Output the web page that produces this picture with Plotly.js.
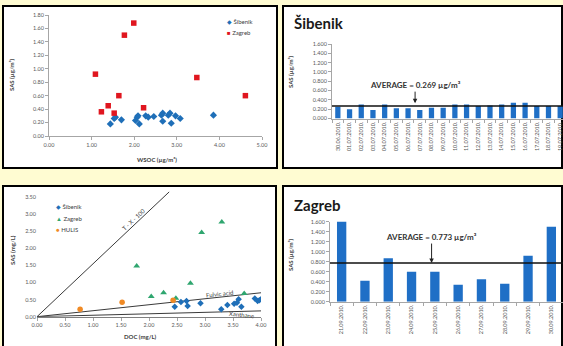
<!DOCTYPE html>
<html><head><meta charset="utf-8">
<script src="https://cdn.plot.ly/plotly-3.0.1.min.js"></script>
<style>html,body{margin:0;padding:0;background:#fffcd2;overflow:hidden}</style>
</head><body><div id="chart" style="width:563px;height:346px"></div>
<script>
// ---- Panel 1: SAS vs WSOC (µg/m³)
const sibenikWsoc = [1.44,1.53,1.56,1.70,2.03,2.07,2.09,2.12,2.27,2.33,2.46,2.64,2.67,2.67,2.80,2.84,2.87,2.97,3.08,3.86];
const sibenikSasA = [0.18,0.26,0.28,0.24,0.23,0.28,0.30,0.18,0.30,0.28,0.29,0.31,0.34,0.22,0.31,0.34,0.19,0.30,0.26,0.31];
const zagrebWsoc = [1.09,1.23,1.39,1.53,1.64,1.77,1.99,2.22,3.47,4.61];
const zagrebSasA = [0.92,0.36,0.45,0.34,0.60,1.50,1.68,0.42,0.87,0.60];
// ---- Panel 3: SAS vs DOC (mg/L)
const sibenikDoc = [2.46,2.57,2.67,2.69,2.92,3.29,3.40,3.52,3.57,3.60,3.65,3.89,3.94,3.97,4.00];
const sibenikSasL = [0.29,0.43,0.46,0.31,0.39,0.22,0.34,0.38,0.41,0.51,0.29,0.53,0.46,0.48,0.51];
const zagrebDoc = [1.78,2.04,2.26,2.48,2.74,2.94,3.30,3.70];
const zagrebSasL = [1.48,0.59,0.70,0.54,0.98,2.46,2.77,0.68];
const hulisDoc = [0.77,1.52,2.43];
const hulisSasL = [0.22,0.42,0.48];
const refNames = ['T - X - 100','Fulvic acid','Xanthane'];
const refEndX = [2.36,4.00,4.00];
const refEndY = [3.65,0.70,0.17];
// ---- Panel 2: Šibenik daily SAS
const sibenikDates = ['30.06.2010.','01.07.2010.','02.07.2010.','03.07.2010.','04.07.2010.','05.07.2010.','06.07.2010.','07.07.2010.','08.07.2010.','09.07.2010.','10.07.2010.','11.07.2010.','12.07.2010.','13.07.2010.','14.07.2010.','15.07.2010.','16.07.2010.','17.07.2010.','18.07.2010.','19.07.2010.'];
const sibenikSas = [0.25,0.20,0.30,0.18,0.30,0.22,0.22,0.18,0.23,0.23,0.30,0.30,0.27,0.28,0.30,0.34,0.34,0.27,0.27,0.27];
const sibenikAvg = 0.269;
// ---- Panel 4: Zagreb daily SAS
const zagrebDates = ['21.09.2010.','22.09.2010.','23.09.2010.','24.09.2010.','25.09.2010.','26.09.2010.','27.09.2010.','28.09.2010.','29.09.2010.','30.09.2010.'];
const zagrebSas = [1.68,0.42,0.87,0.60,0.60,0.34,0.45,0.36,0.92,1.50];
const zagrebAvg = 0.773;

const W = 563, H = 346;
const px = v => v / W, py = v => 1 - v / H;

const blue = '#1f6fb8', red = '#e0161f', green = '#2fa66f', orange = '#f08a24', barBlue = '#1f6fc6';
const tickFont = {family:'Lato, Liberation Sans, sans-serif', size:5.5, color:'#595959'};
const axBase = {showline:true, linecolor:'#a6a6a6', linewidth:1, ticks:'outside', ticklen:3, tickcolor:'#a6a6a6', showgrid:false, zeroline:false, tickfont:tickFont, fixedrange:true};

const traces = [
  {type:'scatter', mode:'markers', x:sibenikWsoc, y:sibenikSasA, xaxis:'x', yaxis:'y', marker:{symbol:'diamond', size:5.5, color:blue}},
  {type:'scatter', mode:'markers', x:zagrebWsoc, y:zagrebSasA, xaxis:'x', yaxis:'y', marker:{symbol:'square', size:5.5, color:red}},
  {type:'bar', x:sibenikDates, y:sibenikSas, xaxis:'x2', yaxis:'y2', width:0.45, marker:{color:barBlue, line:{width:0}}},
  {type:'bar', x:zagrebDates, y:zagrebSas, xaxis:'x4', yaxis:'y4', width:0.4, marker:{color:barBlue, line:{width:0}}}
];
refNames.forEach((n,i) => traces.push({type:'scatter', mode:'lines', x:[0,refEndX[i]], y:[0,refEndY[i]], xaxis:'x3', yaxis:'y3', line:{color:'#3a3a3a', width:1}}));
traces.push({type:'scatter', mode:'markers', x:sibenikDoc, y:sibenikSasL, xaxis:'x3', yaxis:'y3', marker:{symbol:'diamond', size:5, color:blue}});
traces.push({type:'scatter', mode:'markers', x:zagrebDoc, y:zagrebSasL, xaxis:'x3', yaxis:'y3', marker:{symbol:'triangle-up', size:6, color:green}});
traces.push({type:'scatter', mode:'markers', x:hulisDoc, y:hulisSasL, xaxis:'x3', yaxis:'y3', marker:{symbol:'circle', size:5.5, color:orange}});

const panel = (x0,y0,x1,y1) => ({type:'rect', xref:'paper', yref:'paper', x0:px(x0), x1:px(x1), y0:py(y0), y1:py(y1), line:{color:'#000', width:2}, fillcolor:'#ffffff', layer:'below'});

const lblFont = {family:'Lato, Liberation Sans, sans-serif', size:6, color:'#404040'};
const ann = (x,y,text,extra) => Object.assign({xref:'paper', yref:'paper', x:px(x), y:py(y), text:text, showarrow:false, xanchor:'center', yanchor:'middle', font:lblFont}, extra||{});
const leg = (x,y,glyph,color,name) => ann(x,y,`<span style="color:${color}">${glyph}</span> ${name}`,{xanchor:'left'});

const annotations = [
  ann(292,23,'<b>Šibenik</b>',{xanchor:'left', font:{family:'Lato, sans-serif', size:15, color:'#1a1a1a'}}),
  ann(292,205,'<b>Zagreb</b>',{xanchor:'left', font:{family:'Lato, sans-serif', size:15, color:'#1a1a1a'}}),
  ann(12,75,'<b>SAS (µg/m³)</b>',{textangle:-90}),
  ann(157,159,'<b>WSOC (µg/m³)</b>'),
  ann(290,72,'<b>SAS (µg/m³)</b>',{textangle:-90}),
  ann(290,255,'<b>SAS (µg/m³)</b>',{textangle:-90}),
  ann(12,250,'<b>SAS (mg/L)</b>',{textangle:-90}),
  ann(140,336,'<b>DOC (mg/L)</b>'),
  leg(225,21,'◆',blue,'Šibenik'),
  leg(225,33,'■',red,'Zagreb'),
  leg(54,206,'◆',blue,'Šibenik'),
  leg(54,218,'▲',green,'Zagreb'),
  leg(54,229.5,'●',orange,'HULIS'),
  {xref:'x3', yref:'y3', x:1.72, y:2.85, text:refNames[0], showarrow:false, textangle:-43, xanchor:'center', yanchor:'middle', font:lblFont},
  {xref:'x3', yref:'y3', x:3.27, y:0.68, text:refNames[1], showarrow:false, textangle:-6, xanchor:'center', yanchor:'middle', font:lblFont},
  {xref:'x3', yref:'y3', x:3.65, y:0.05, text:refNames[2], showarrow:false, textangle:6, xanchor:'center', yanchor:'middle', font:lblFont},
  {xref:'x2', yref:'y2', x:6.6, y:0.33, ax:0, ay:-18, text:'<b>AVERAGE = ' + sibenikAvg.toFixed(3) + ' µg/m³</b>', showarrow:true, arrowhead:2, arrowsize:0.9, arrowwidth:1, arrowcolor:'#222', standoff:0, font:{family:'Lato, sans-serif', size:8, color:'#333'}},
  {xref:'x4', yref:'y4', x:3.86, y:zagrebAvg, ax:0, ay:-26, text:'<b>AVERAGE = ' + zagrebAvg.toFixed(3) + ' µg/m³</b>', showarrow:true, arrowhead:2, arrowsize:0.9, arrowwidth:1, arrowcolor:'#222', standoff:0, font:{family:'Lato, sans-serif', size:8, color:'#333'}}
];

const shapes = [
  panel(3,6,277,168),
  panel(283,6,562,168),
  panel(3,186,276,352),
  panel(283,186,562,352),
  {type:'line', xref:'x2 domain', yref:'y2', x0:0, x1:1, y0:sibenikAvg, y1:sibenikAvg, line:{color:'#111', width:1.5}},
  {type:'line', xref:'x4 domain', yref:'y4', x0:0, x1:1, y0:zagrebAvg, y1:zagrebAvg, line:{color:'#111', width:1.5}}
];

const layout = {
  width:W, height:H, margin:{l:0,r:0,t:0,b:0}, showlegend:false,
  paper_bgcolor:'#fffcd2', plot_bgcolor:'rgba(0,0,0,0)',
  font:{family:'Lato, Liberation Sans, sans-serif'},
  xaxis:Object.assign({}, axBase, {domain:[px(49),px(262)], anchor:'y', range:[0,5], dtick:1, tick0:0, tickformat:'.2f'}),
  yaxis:Object.assign({}, axBase, {domain:[py(136),py(15)], anchor:'x', range:[0,1.8], dtick:0.2, tick0:0, tickformat:'.2f'}),
  xaxis2:Object.assign({}, axBase, {domain:[px(332),1], anchor:'y2', type:'category', range:[-0.5,19.24], tickangle:-90, tickson:'boundaries'}),
  yaxis2:Object.assign({}, axBase, {domain:[py(118.5),py(44)], anchor:'x2', range:[0,1.6], dtick:0.2, tick0:0, tickformat:'.3f'}),
  xaxis3:Object.assign({}, axBase, {domain:[px(37),px(261)], anchor:'y3', range:[0,4], dtick:0.5, tick0:0, tickformat:'.2f', linecolor:'#7f7f7f'}),
  yaxis3:Object.assign({}, axBase, {domain:[py(316.7),py(190.2)], anchor:'x3', range:[0,3.7], dtick:0.5, tick0:0, tickformat:'.2f', showline:false, ticks:''}),
  xaxis4:Object.assign({}, axBase, {domain:[px(330),1], anchor:'y4', type:'category', range:[-0.5,9.5], tickangle:-90, tickson:'boundaries'}),
  yaxis4:Object.assign({}, axBase, {domain:[py(301.7),py(221.7)], anchor:'x4', range:[0,1.6], dtick:0.2, tick0:0, tickformat:'.3f'}),
  shapes:shapes, annotations:annotations
};

Plotly.newPlot('chart', traces, layout, {staticPlot:true, displayModeBar:false});
</script></body></html>
